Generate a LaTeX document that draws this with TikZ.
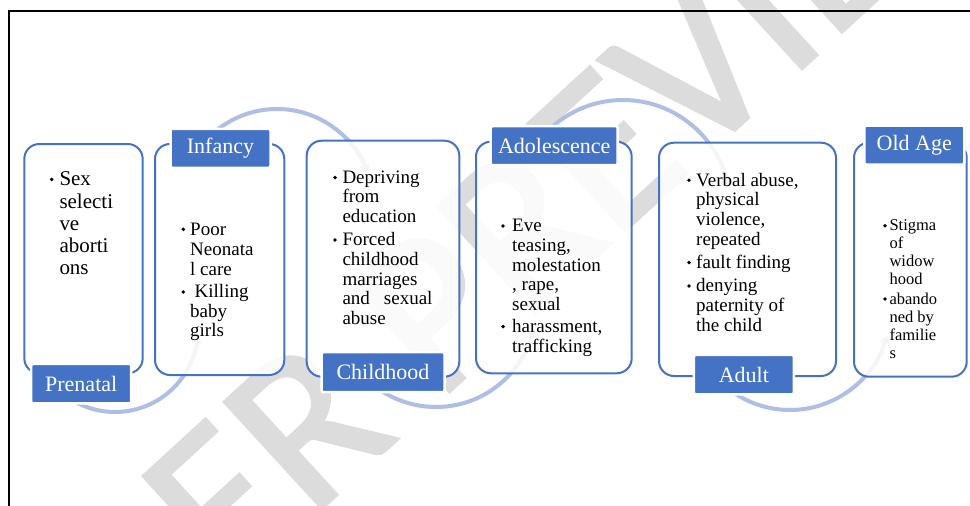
\documentclass[tikz,border=0pt]{standalone}
\usepackage{fontspec}
\setmainfont{Liberation Serif}
\newfontfamily\bodyserif{Liberation Serif}
\newfontfamily\wmfont[FakeBold=1.5]{Carlito}
\usetikzlibrary{arrows.meta}
\definecolor{boxblue}{HTML}{4472C4}
\definecolor{arcblue}{RGB}{175,190,228}
\definecolor{wmgrey}{RGB}{220,220,220}
\tikzset{
  stagebox/.style={draw=boxblue, line width=2pt, fill=white, fill opacity=0.86, rounded corners=15pt},
  tagbox/.style={fill=boxblue, draw=white, line width=2.5pt, rounded corners=2pt, text=white,
     font=\bodyserif\fontsize{22}{24}\selectfont, inner sep=0pt},
  arcpath/.style={draw=arcblue, line width=4pt, -{Triangle[length=7pt,width=10pt]}},
  bodytxt/.style={anchor=base west, inner sep=0pt, text=black},
}
\newcommand\bitem[7]{%
  \fill (#2,{#4-0.3*#5}) circle[radius=1.9];
  \node[bodytxt, font=\bodyserif\fontsize{#5}{#6}\selectfont] (#1) at (#3,#4) {\begin{tabular}[t]{@{}l@{}}#7\end{tabular}};}
\begin{document}
\begin{tikzpicture}[x=1pt,y=-1pt]
\useasboundingbox (0,0) rectangle (970,506);
\clip (0,0) rectangle (970,506);
\fill[white] (0,0) rectangle (970,506);
% watermark
\node[rotate=42.5, anchor=base west, inner sep=0pt, text=wmgrey,
      font=\wmfont\fontsize{225}{225}\selectfont] (wm) at (127,687) {DER PREVIEW};
% frame
\draw[line width=2pt] (9,520) -- (9,10.5) -- (980,10.5);
% arcs
\draw[arcpath] (115,329) ++(125:83) arc[start angle=125,end angle=5,radius=83];
\draw[arcpath] (277,205) ++(-150:96) arc[start angle=-150,end angle=-20,radius=96];
\draw[arcpath] (436,307) ++(135:100) arc[start angle=135,end angle=12,radius=100];
\draw[arcpath] (623,207) ++(-140:107) arc[start angle=-140,end angle=-10,radius=107];
\draw[arcpath] (790,310) ++(125:100) arc[start angle=125,end angle=15,radius=100];
% stage boxes
\path[stagebox] (24.3,144) rectangle (142.7,373.3);
\path[stagebox] (155,144) rectangle (284.3,375);
\path[stagebox] (306.7,140.7) rectangle (459.3,376.7);
\path[stagebox] (476,141.7) rectangle (631.7,373.3);
\path[stagebox] (659,142.7) rectangle (836,376);
\path[stagebox] (854,142.7) rectangle (966.7,376.7);
% labels
\node[tagbox, minimum width=100pt, minimum height=39.5pt] (t1) at (81.2,383.7) {Prenatal};
\node[tagbox, minimum width=100pt, minimum height=39pt] (t2) at (220.5,148.3) {Infancy};
\node[tagbox, minimum width=123pt, minimum height=40pt] (t3) at (383,372.2) {Childhood};
\node[tagbox, minimum width=127pt, minimum height=39pt] (t4) at (554.2,145.7) {Adolescence};
\node[tagbox, minimum width=100pt, minimum height=39.5pt] (t5) at (743.9,374.7) {Adult};
\node[tagbox, minimum width=100pt, minimum height=39pt] (t6) at (914.3,145) {Old Age};
% texts
\bitem{p1}{51.7}{59.3}{185.7}{21}{22.3}{Sex\\selecti\\ve\\aborti\\ons}
\bitem{i1}{183.3}{190}{235}{19}{20}{Poor\\Neonata\\l care}
\bitem{i2}{183.3}{190}{297.7}{19}{19.6}{\hspace*{4.5pt}Killing\\baby\\girls}
\bitem{c1}{335}{342.3}{183.3}{19}{19.5}{Depriving\\from\\education}
\bitem{c2}{335}{342.3}{245.7}{19}{19.65}{Forced\\childhood\\marriages\\\makebox[90pt][l]{and\hfill sexual}\\abuse}
\bitem{a1}{503}{512}{231.7}{19}{19.75}{Eve\\teasing,\\molestation\\, rape,\\sexual}
\bitem{a2}{503}{512}{332.3}{19}{20.4}{harassment,\\trafficking}
\bitem{d1}{689}{696}{186}{19}{19.9}{Verbal abuse,\\physical\\violence,\\repeated}
\bitem{d2}{689}{696}{268.3}{19}{20}{fault finding}
\bitem{d3}{689}{696}{291.7}{19}{20}{denying\\paternity of\\the child}
\bitem{o1}{885}{889.3}{230.7}{16.5}{17.8}{Stigma\\of\\widow\\hood}
\bitem{o2}{885}{889.3}{304}{16.5}{18.1}{abando\\ned by\\familie\\s}
\end{tikzpicture}
\end{document}
